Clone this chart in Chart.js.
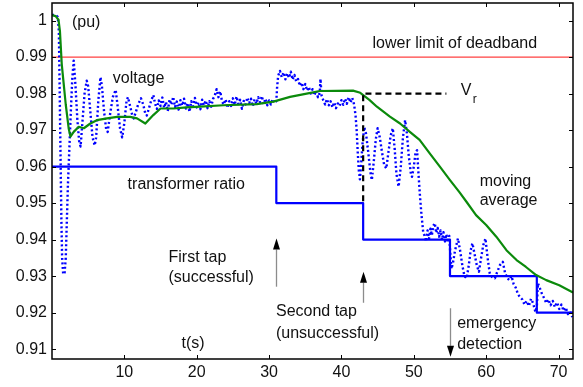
<!DOCTYPE html>
<html>
<head>
<meta charset="utf-8">
<script src="https://cdn.jsdelivr.net/npm/chart.js@4.4.1/dist/chart.umd.min.js"></script>
<style>
  html, body { margin: 0; padding: 0; background: #fff; }
  #wrap { width: 583px; height: 387px; }
</style>
</head>
<body>
<div id="wrap"><canvas id="chart"></canvas></div>
<script>
// Tap changer response: voltage, moving average, transformer ratio

const xTicks = [10, 20, 30, 40, 50, 60, 70];
const yTicks = [0.91, 0.92, 0.93, 0.94, 0.95, 0.96, 0.97, 0.98, 0.99, 1];
const yTickLabels = ['0.91', '0.92', '0.93', '0.94', '0.95', '0.96', '0.97', '0.98', '0.99', '1'];

const deadbandLimit = 0.99;

// transformer ratio steps [t, ratio]
const ratio = [[0, 0.96], [31, 0.96], [31, 0.95], [43, 0.95], [43, 0.94], [55, 0.94],
    [55, 0.93], [67, 0.93], [67, 0.92], [72, 0.92]];

// reference voltage Vr [t, v]
const vref = [[43, 0.9505], [43, 0.98], [54.5, 0.98]];

// moving average [t, v]
const movingAvg = [[0, 1.0015], [0.5, 1.0012], [0.9, 1.0002], [1.1, 0.997], [1.35, 0.988],
    [1.6, 0.983], [1.9, 0.977], [2.3, 0.9705], [2.55, 0.9682], [3.0, 0.9695], [3.7, 0.9709],
    [4.4, 0.9705], [5.3, 0.9718], [6.2, 0.9727], [7.6, 0.9732], [9.0, 0.9736], [10.8, 0.9736],
    [11.75, 0.9732], [12.9, 0.9718], [14.0, 0.9741], [15.0, 0.9759], [16.8, 0.9759],
    [18.6, 0.9762], [20.5, 0.9764], [23.7, 0.9768], [28.3, 0.9771], [30.6, 0.9778],
    [32.9, 0.9791], [35.2, 0.9800], [37.0, 0.9807], [41.6, 0.9808], [42.6, 0.9802],
    [43.9, 0.9782], [44.9, 0.9764], [46.7, 0.9737], [48.1, 0.9718], [49.45, 0.9695],
    [50.8, 0.9673], [52.2, 0.9636], [53.6, 0.9600], [55.0, 0.9563], [56.3, 0.9530],
    [57.3, 0.9503], [58.6, 0.9467], [60.0, 0.9440], [61.4, 0.9408], [62.8, 0.9371],
    [64.2, 0.9344], [65.5, 0.9325], [66.9, 0.9303], [68.3, 0.9289], [70.1, 0.9275], [72, 0.9255]];

// measured voltage [t, v]
const voltage = [[0, 1.0015], [0.5, 1.0015], [0.8, 1.001], [0.95, 0.997], [1.0, 0.990],
    [1.1, 0.975], [1.2, 0.960], [1.3, 0.945], [1.4, 0.935], [1.55, 0.9305], [1.75, 0.931],
    [1.9, 0.935], [2.05, 0.945], [2.2, 0.955], [2.4, 0.965], [2.6, 0.975], [2.8, 0.984],
    [3.0, 0.989], [3.25, 0.982], [3.5, 0.973], [3.75, 0.967], [3.95, 0.9655], [4.2, 0.972],
    [4.5, 0.980], [4.8, 0.9835], [5.0, 0.982], [5.3, 0.975], [5.6, 0.968], [5.9, 0.9658],
    [6.1, 0.968], [6.4, 0.978], [6.7, 0.9845], [6.9, 0.982], [7.2, 0.975], [7.5, 0.970],
    [7.7, 0.9695], [8.0, 0.974], [8.4, 0.979], [8.8, 0.981], [9.1, 0.976], [9.4, 0.9705],
    [9.7, 0.968], [10.0, 0.972], [10.3, 0.978], [10.5, 0.979], [10.8, 0.9765], [11.1, 0.974],
    [11.3, 0.9732], [11.6, 0.975], [11.9, 0.977], [12.3, 0.9787], [12.6, 0.977], [12.9, 0.9745],
    [13.1, 0.974], [13.4, 0.976], [13.7, 0.978], [14.0, 0.9796],
    [14.25, 0.9772], [14.5, 0.9758], [14.75, 0.9781], [15.0, 0.9766], [15.25, 0.9789],
    [15.5, 0.9761], [15.75, 0.9777], [16.0, 0.9752], [16.25, 0.9784], [16.5, 0.9769],
    [16.75, 0.9791], [17.0, 0.9763], [17.25, 0.9778], [17.5, 0.9756], [17.75, 0.9782],
    [18.0, 0.9767], [18.25, 0.9786], [18.5, 0.9759], [18.75, 0.9774], [19.0, 0.9750],
    [19.25, 0.9779], [19.5, 0.9765], [19.75, 0.9788], [20.0, 0.9762], [20.25, 0.9776],
    [20.5, 0.9757], [20.75, 0.9783], [21.0, 0.9768], [21.25, 0.9781], [21.5, 0.9760],
    [21.75, 0.9779], [22.0, 0.9764], [22.25, 0.9785], [22.5, 0.9795], [22.75, 0.9812],
    [23.0, 0.9790], [23.25, 0.9806], [23.5, 0.9778], [23.75, 0.9770], [24.0, 0.9784],
    [24.25, 0.9761], [24.5, 0.9779], [24.75, 0.9766], [25.0, 0.9787], [25.25, 0.9769],
    [25.5, 0.9792], [25.75, 0.9771], [26.0, 0.9783], [26.25, 0.9758], [26.5, 0.9780],
    [26.75, 0.9770], [27.0, 0.9789], [27.25, 0.9774], [27.5, 0.9786], [27.75, 0.9765],
    [28.0, 0.9784], [28.25, 0.9772], [28.5, 0.9790], [28.75, 0.9776], [29.0, 0.9793],
    [29.25, 0.9771], [29.5, 0.9786], [29.75, 0.9768], [30.0, 0.9781], [30.25, 0.9770],
    [30.5, 0.9785], [30.75, 0.9774], [31.0, 0.9779],
    [31.1, 0.9815], [31.25, 0.9848], [31.5, 0.9862], [31.75, 0.9845], [32.0, 0.9858],
    [32.25, 0.9839], [32.5, 0.9855], [32.75, 0.9843], [33.0, 0.9860], [33.25, 0.9838],
    [33.5, 0.9851], [33.75, 0.9833], [34.0, 0.9840], [34.25, 0.9821], [34.5, 0.9830],
    [34.75, 0.9812], [35.0, 0.9826], [35.25, 0.9808], [35.5, 0.9818], [35.75, 0.9800],
    [36.0, 0.9812], [36.25, 0.9795], [36.5, 0.9808], [36.75, 0.9790], [37.0, 0.9802],
    [37.1, 0.9840], [37.25, 0.9795], [37.5, 0.9781], [37.75, 0.9770], [38.0, 0.9785],
    [38.25, 0.9768], [38.5, 0.9779], [38.75, 0.9762], [39.0, 0.9776], [39.25, 0.9760],
    [39.5, 0.9773], [39.75, 0.9766], [40.0, 0.9782], [40.25, 0.9769], [40.5, 0.9786],
    [40.75, 0.9772], [41.0, 0.9790], [41.25, 0.9775], [41.5, 0.9788], [41.75, 0.9770],
    [41.95, 0.9740], [42.1, 0.9700], [42.25, 0.9640], [42.4, 0.9590], [42.55, 0.9565],
    [42.7, 0.9600], [42.9, 0.9660], [43.15, 0.9708], [43.4, 0.9690], [43.7, 0.9640],
    [44.0, 0.9585], [44.2, 0.9563], [44.45, 0.9610], [44.75, 0.9675], [45.0, 0.9705],
    [45.3, 0.9680], [45.6, 0.9640], [45.9, 0.9605], [46.2, 0.9595], [46.5, 0.9640],
    [46.8, 0.9685], [47.1, 0.9705], [47.35, 0.9650], [47.6, 0.9580], [47.9, 0.9545],
    [48.2, 0.9600], [48.5, 0.9680], [48.8, 0.9727], [49.05, 0.9690], [49.3, 0.9630],
    [49.6, 0.9580], [49.75, 0.9572], [50.0, 0.9600], [50.25, 0.9640], [50.45, 0.9645],
    [50.65, 0.9580], [50.85, 0.9520], [51.05, 0.9470], [51.3, 0.9420], [51.5, 0.9410],
    [51.7, 0.9395], [51.9, 0.9425], [52.1, 0.9402], [52.3, 0.9430], [52.5, 0.9412],
    [52.7, 0.9438], [52.9, 0.9445], [53.1, 0.9418], [53.3, 0.9432], [53.5, 0.9408],
    [53.7, 0.9425], [53.9, 0.9400], [54.1, 0.9420], [54.3, 0.9395], [54.5, 0.9415],
    [54.7, 0.9392], [54.9, 0.9410],
    [55.05, 0.9360], [55.2, 0.9320], [55.4, 0.9335], [55.7, 0.9370], [56.1, 0.9403],
    [56.4, 0.9370], [56.7, 0.9330], [57.0, 0.9300], [57.3, 0.9294], [57.6, 0.9330],
    [57.85, 0.9370], [58.1, 0.9390], [58.4, 0.9360], [58.7, 0.9330], [59.0, 0.9312],
    [59.3, 0.9350], [59.6, 0.9385], [59.9, 0.9403], [60.2, 0.9350], [60.5, 0.9307],
    [60.8, 0.9298], [61.2, 0.9294], [61.5, 0.9310], [61.9, 0.9330], [62.3, 0.9339],
    [62.6, 0.9310], [62.9, 0.9295], [63.2, 0.9289], [63.5, 0.9300], [63.8, 0.9278],
    [64.1, 0.9268], [64.4, 0.9250], [64.7, 0.9242], [65.0, 0.9236], [65.3, 0.9222],
    [65.6, 0.9232], [65.9, 0.9218], [66.2, 0.9238], [66.5, 0.9225], [66.8, 0.9202],
    [67.0, 0.9215], [67.15, 0.9280], [67.4, 0.9268], [67.7, 0.9252], [68.0, 0.9240],
    [68.3, 0.9226], [68.6, 0.9236], [68.9, 0.9220], [69.2, 0.9232], [69.5, 0.9215],
    [69.8, 0.9228], [70.1, 0.9210], [70.4, 0.9222], [70.7, 0.9205], [71.0, 0.9214],
    [71.3, 0.9196], [71.6, 0.9203], [71.9, 0.9188]];

const FONT = '"Liberation Sans", Arial, sans-serif';

// text labels placed in data coordinates (left edge, vertical centre)
const notes = [
    ['(pu)', 2.75, 0.9995],
    ['lower limit of deadband', 44.3, 0.9936],
    ['voltage', 8.4, 0.9840],
    ['transformer ratio', 10.45, 0.9551],
    ['moving', 59.1, 0.9560],
    ['average', 59.1, 0.9506],
    ['First tap', 16.1, 0.9352],
    ['(successful)', 16.1, 0.9295],
    ['t(s)', 17.9, 0.9114],
    ['Second tap', 30.95, 0.9202],
    ['(unsuccessful)', 30.95, 0.9142],
    ['emergency', 56.0, 0.9170],
    ['detection', 56.0, 0.9113],
];

// arrows: [t, tail v, tip v]
const arrows = [[31, 0.9271, 0.9403], [43, 0.9227, 0.9312], [55, 0.9212, 0.9079]];

const toXY = (pairs) => pairs.map(p => ({ x: p[0], y: p[1] }));

// ── overlay: box, inward ticks, notes, arrows ──────────────────────────

const overlay = {
    id: 'overlay',
    afterDatasetsDraw(chart) {
        const { ctx, scales: { x, y } } = chart;
        ctx.save();
        // arrows
        arrows.forEach(([t, v0, v1]) => {
            const px = Math.round(x.getPixelForValue(t)) + 0.5;
            const p0 = y.getPixelForValue(v0);
            const p1 = y.getPixelForValue(v1);
            const dir = p1 < p0 ? 1 : -1;
            const base = p1 + dir * 11;
            ctx.strokeStyle = '#8c8c8c';
            ctx.lineWidth = 1.3;
            ctx.beginPath();
            ctx.moveTo(px, p0);
            ctx.lineTo(px, base);
            ctx.stroke();
            ctx.fillStyle = '#000';
            ctx.beginPath();
            ctx.moveTo(px, p1);
            ctx.lineTo(px - 3.5, base);
            ctx.lineTo(px + 3.5, base);
            ctx.closePath();
            ctx.fill();
        });
        // notes
        ctx.fillStyle = '#111';
        ctx.font = `16px ${FONT}`;
        ctx.textBaseline = 'middle';
        ctx.textAlign = 'left';
        notes.forEach(([txt, t, v]) => {
            ctx.fillText(txt, x.getPixelForValue(t), y.getPixelForValue(v));
        });
        // V_r label
        const vx = x.getPixelForValue(56.5);
        const vy = y.getPixelForValue(0.9807);
        ctx.fillText('V', vx, vy);
        ctx.font = `12px ${FONT}`;
        ctx.fillText('r', vx + 12, vy + 9);
        ctx.restore();
    },
    afterDraw(chart) {
        const { ctx, chartArea: a, scales: { x, y } } = chart;
        ctx.save();
        ctx.strokeStyle = '#000';
        ctx.lineWidth = 1;
        const tl = 4;
        ctx.beginPath();
        xTicks.forEach(t => {
            const px = Math.round(x.getPixelForValue(t)) + 0.5;
            ctx.moveTo(px, a.bottom);
            ctx.lineTo(px, a.bottom - tl);
            ctx.moveTo(px, a.top);
            ctx.lineTo(px, a.top + tl);
        });
        yTicks.forEach(v => {
            const py = Math.round(y.getPixelForValue(v)) + 0.5;
            ctx.moveTo(a.left, py);
            ctx.lineTo(a.left + tl, py);
            ctx.moveTo(a.right, py);
            ctx.lineTo(a.right - tl, py);
        });
        ctx.stroke();
        ctx.lineWidth = 1.5;
        ctx.strokeRect(a.left, a.top, a.right - a.left, a.bottom - a.top);
        ctx.restore();
    }
};

// ── Chart ─────────────────────────────────────────────────────────────

function initChart() {
    const ctx = document.getElementById('chart').getContext('2d');
    new Chart(ctx, {
        type: 'line',
        data: {
            datasets: [
                {
                    label: 'Vr',
                    data: toXY(vref),
                    borderColor: '#000',
                    borderWidth: 2.2,
                    borderDash: [6, 4],
                    order: 0,
                },
                {
                    label: 'moving average',
                    data: toXY(movingAvg),
                    borderColor: '#0b8a0b',
                    borderWidth: 2.2,
                    order: 1,
                },
                {
                    label: 'voltage',
                    data: toXY(voltage),
                    borderColor: '#0000ff',
                    borderWidth: 2.4,
                    borderDash: [2, 2.5],
                    order: 2,
                },
                {
                    label: 'transformer ratio',
                    data: toXY(ratio),
                    borderColor: '#0000ff',
                    borderWidth: 2.2,
                    order: 3,
                },
                {
                    label: 'deadband',
                    data: [{ x: 0, y: deadbandLimit }, { x: 72, y: deadbandLimit }],
                    borderColor: '#ff4040',
                    borderWidth: 1.2,
                    order: 4,
                },
            ]
        },
        options: {
            responsive: true,
            maintainAspectRatio: false,
            animation: false,
            layout: { padding: { top: 3, right: 10, left: 0, bottom: 0 } },
            elements: {
                point: { radius: 0 },
                line: { tension: 0, borderJoinStyle: 'round' },
            },
            plugins: {
                legend: { display: false },
                tooltip: { enabled: false },
            },
            scales: {
                x: {
                    type: 'linear',
                    min: 0,
                    max: 72,
                    grid: { display: false, drawTicks: false },
                    border: { display: false },
                    afterBuildTicks: (s) => { s.ticks = xTicks.map(v => ({ value: v })); },
                    afterFit: (s) => {
                        s.height = 28;
                        s.paddingLeft = 0;
                        s.paddingRight = 0;
                    },
                    ticks: {
                        color: '#111',
                        font: { family: FONT, size: 16 },
                        padding: 4,
                        maxRotation: 0,
                        callback: (v) => String(v),
                    },
                },
                y: {
                    type: 'linear',
                    min: 0.9073,
                    max: 1.0048,
                    grid: { display: false, drawTicks: false },
                    border: { display: false },
                    afterBuildTicks: (s) => { s.ticks = yTicks.map(v => ({ value: v })); },
                    afterFit: (s) => {
                        s.width = 52;
                        s.paddingTop = 0;
                        s.paddingBottom = 0;
                    },
                    ticks: {
                        color: '#111',
                        font: { family: FONT, size: 16 },
                        padding: 5,
                        callback: (v) => {
                            const i = yTicks.findIndex(t => Math.abs(t - v) < 1e-6);
                            return i >= 0 ? yTickLabels[i] : '';
                        },
                    },
                },
            },
        },
        plugins: [overlay],
    });
}

document.addEventListener('DOMContentLoaded', initChart);
</script>
</body>
</html>
